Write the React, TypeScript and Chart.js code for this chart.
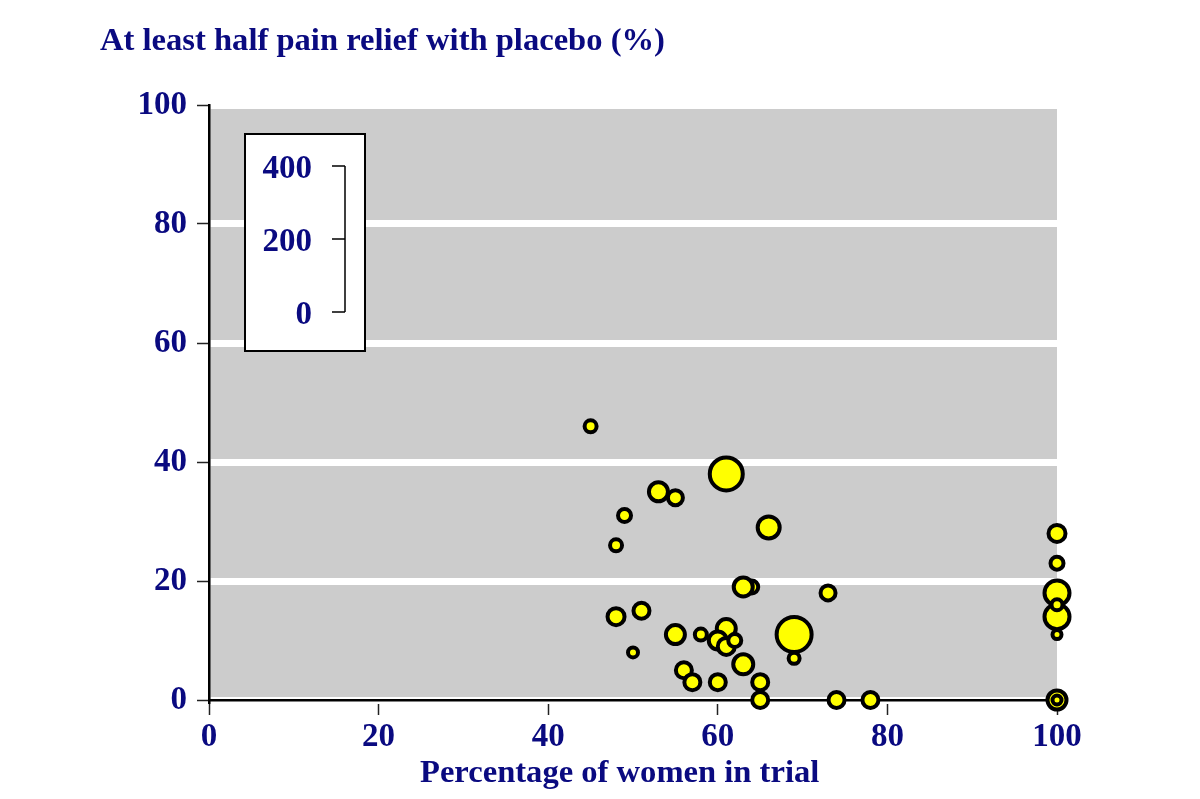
import { useEffect, useRef } from 'react';
import { Chart, registerables } from 'chart.js';

Chart.register(...registerables);

// ---- Data ----
const womenPct = [45, 61, 53, 55, 49, 48, 66, 64, 63, 73, 48, 51, 55, 58, 61, 60, 61, 62, 69, 69, 50, 56, 57, 60, 63, 65, 65, 74, 78, 100, 100, 100, 100, 100, 100, 100, 100];
const placeboRelief = [46, 38, 35, 34, 31, 26, 29, 19, 19, 18, 14, 15, 11, 11, 12, 10, 9, 10, 11, 7, 8, 5, 3, 3, 6, 3, 0, 0, 0, 28, 23, 18, 14, 16, 11, 0, 0];
const bubbleRadius = [6, 16.5, 9.5, 7.5, 6.5, 6, 11, 6.5, 9.5, 7.5, 8.5, 8, 9.5, 6, 9.5, 9, 8.5, 6.5, 17.5, 5.5, 5, 8, 8, 8, 10, 8, 8, 8, 8, 8.5, 6.5, 12.5, 12.5, 5.5, 4.5, 9.5, 4.5];

const xTicks = [0, 20, 40, 60, 80, 100];
const yTicks = [0, 20, 40, 60, 80, 100];
const sizeLegendLabels = ['400', '200', '0'];

const yTitle = 'At least half pain relief with placebo (%)';
const xTitle = 'Percentage of women in trial';

const NAVY = '#0a0a80';
const FONT = "'Liberation Serif', 'Times New Roman', serif";

const decorPlugin = {
  id: 'decor',
  beforeDraw(chart: any) {
    const { ctx, chartArea } = chart;
    ctx.save();
    ctx.fillStyle = '#cccccc';
    ctx.fillRect(chartArea.left, chartArea.top, chartArea.right - chartArea.left, chartArea.bottom - chartArea.top);
    ctx.restore();
  },
  afterDraw(chart: any) {
    const { ctx } = chart;
    ctx.save();
    // titles
    ctx.fillStyle = NAVY;
    ctx.font = `bold 32.6px ${FONT}`;
    ctx.textAlign = 'left';
    ctx.textBaseline = 'alphabetic';
    ctx.fillText(yTitle, 100, 50);
    ctx.fillText(xTitle, 420, 782);

    // size legend box
    ctx.fillStyle = '#ffffff';
    ctx.fillRect(245, 134, 120, 217);
    ctx.strokeStyle = '#000';
    ctx.lineWidth = 2;
    ctx.strokeRect(245, 134, 120, 217);

    const tickYs = [166, 239, 312];
    ctx.lineWidth = 1.5;
    ctx.beginPath();
    ctx.moveTo(345, tickYs[0]);
    ctx.lineTo(345, tickYs[2]);
    tickYs.forEach((ty) => {
      ctx.moveTo(332, ty);
      ctx.lineTo(345, ty);
    });
    ctx.stroke();

    ctx.fillStyle = NAVY;
    ctx.font = `bold 33px ${FONT}`;
    ctx.textAlign = 'right';
    ctx.textBaseline = 'middle';
    sizeLegendLabels.forEach((lab, i) => {
      ctx.fillText(lab, 312, tickYs[i] + 3);
    });
    ctx.restore();
  },
};

export default function App() {
  const ref = useRef<HTMLCanvasElement | null>(null);

  useEffect(() => {
    if (!ref.current) return;
    const data = womenPct.map((x, i) => ({ x, y: placeboRelief[i], r: bubbleRadius[i] }));
    const chart = new Chart(ref.current, {
      type: 'bubble',
      data: {
        datasets: [
          {
            data,
            backgroundColor: '#ffff00',
            borderColor: '#000000',
            borderWidth: 4,
            hoverBorderWidth: 4,
            clip: false,
          } as any,
        ],
      },
      options: {
        animation: false,
        responsive: false,
        devicePixelRatio: 1,
        events: [],
        layout: { padding: { top: 105, right: 143, left: 0, bottom: 0 } },
        plugins: { legend: { display: false }, tooltip: { enabled: false } },
        scales: {
          x: {
            type: 'linear',
            min: 0,
            max: 100,
            afterFit(scale: any) {
              scale.height = 99;
            },
            afterBuildTicks(scale: any) {
              scale.ticks = xTicks.map((v) => ({ value: v }));
            },
            border: { display: true, color: '#000', width: 2.5 },
            grid: {
              drawOnChartArea: false,
              drawTicks: true,
              tickLength: 15,
              tickColor: '#222',
              tickWidth: 1.5,
            },
            ticks: {
              color: NAVY,
              font: { family: FONT, weight: 'bold', size: 33 },
              padding: 3,
              maxRotation: 0,
            },
          },
          y: {
            type: 'linear',
            min: 0,
            max: 100,
            afterFit(scale: any) {
              scale.width = 209;
            },
            afterBuildTicks(scale: any) {
              scale.ticks = yTicks.map((v) => ({ value: v }));
            },
            border: { display: true, color: '#000', width: 2.5 },
            grid: {
              color: '#ffffff',
              lineWidth: 7,
              drawOnChartArea: true,
              drawTicks: true,
              tickLength: 12,
              tickColor: '#222',
              tickWidth: 1.5,
            },
            ticks: {
              color: NAVY,
              font: { family: FONT, weight: 'bold', size: 33 },
              padding: 10,
            },
          },
        },
      },
      plugins: [decorPlugin],
    });
    return () => chart.destroy();
  }, []);

  return (
    <div style={{ position: 'absolute', left: 0, top: 0, width: 1200, height: 799, background: '#fff' }}>
      <canvas ref={ref} width={1200} height={799} style={{ width: 1200, height: 799 }} />
    </div>
  );
}
